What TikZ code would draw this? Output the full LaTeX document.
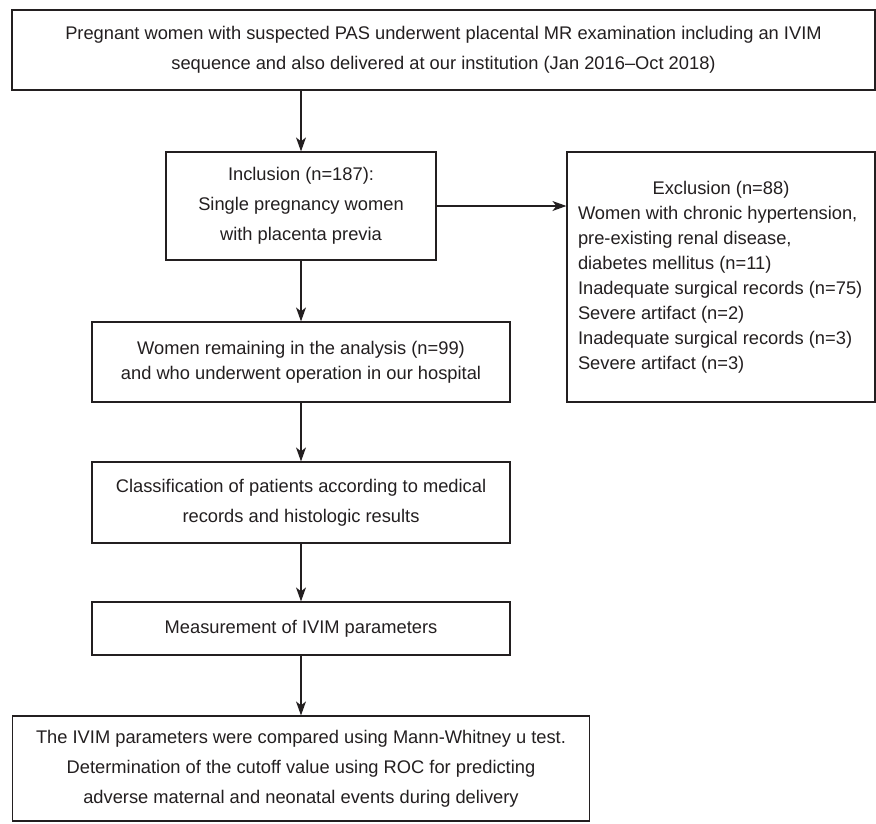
\documentclass[tikz,border=0pt]{standalone}
\usepackage{fontspec}
\setmainfont{Liberation Sans}
\usetikzlibrary{arrows.meta}
\definecolor{ink}{HTML}{231F20}
\begin{document}
\begin{tikzpicture}[x=1pt, y=-1pt, >={Stealth[length=14pt, width=10pt, inset=4pt]},
    box/.style={draw=ink, line width=1.2pt, text=ink, inner sep=0pt, align=center},
    wide/.style={font=\fontsize{18.3}{30}\selectfont},
    tight/.style={font=\fontsize{18.3}{25}\selectfont},
    flow/.style={draw=ink, line width=1.2pt, ->}]
    \useasboundingbox[fill=white] (0,0) rectangle (876,823);
    \node[box, wide, minimum width=863pt, minimum height=80pt] (pregnant) at (443.5,50) {Pregnant women with suspected PAS underwent placental MR examination including an IVIM\\sequence and also delivered at our institution (Jan 2016–Oct 2018)};
    \node[box, wide, minimum width=270pt, minimum height=108pt] (inclusion) at (301,206) {Inclusion (n=187):\\Single pregnancy women\\with placenta previa};
    \node[box, tight, align=left, minimum width=308pt, minimum height=250pt] (exclusion) at (721,277) {\makebox[286pt]{Exclusion (n=88)}\\Women with chronic hypertension,\\pre-existing renal disease,\\diabetes mellitus (n=11)\\Inadequate surgical records (n=75)\\Severe artifact (n=2)\\Inadequate surgical records (n=3)\\Severe artifact (n=3)};
    \node[box, tight, minimum width=418pt, minimum height=80pt] (remaining) at (301,362) {Women remaining in the analysis (n=99)\\and who underwent operation in our hospital};
    \node[box, wide, minimum width=418pt, minimum height=81pt] (classification) at (301,502.5) {Classification of patients according to medical\\records and histologic results};
    \node[box, wide, minimum width=418pt, minimum height=53pt] (measurement) at (301,628.5) {Measurement of IVIM parameters};
    \node[box, wide, minimum width=577pt, minimum height=105pt] (comparison) at (301,768.5) {The IVIM parameters were compared using Mann-Whitney u test.\\Determination of the cutoff value using ROC for predicting\\adverse maternal and neonatal events during delivery};
    \draw[flow] (pregnant.south -| inclusion.north) -- (inclusion.north);
    \draw[flow] (inclusion.east) -- (exclusion.west |- inclusion.east);
    \draw[flow] (inclusion.south) -- (remaining.north);
    \draw[flow] (remaining.south) -- (classification.north);
    \draw[flow] (classification.south) -- (measurement.north);
    \draw[flow] (measurement.south) -- (comparison.north);
\end{tikzpicture}
\end{document}
